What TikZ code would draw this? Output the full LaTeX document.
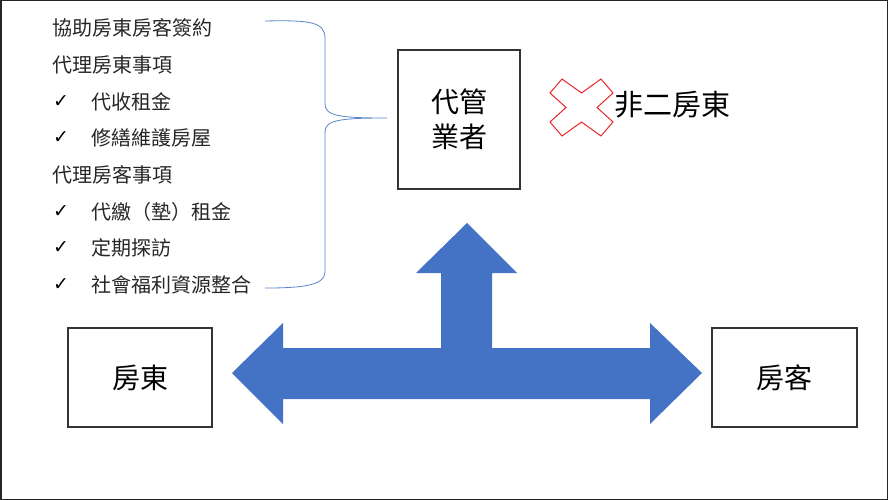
\documentclass[tikz,border=0pt]{standalone}
\usepackage{fontspec}
\newfontfamily\cjk{Noto Sans CJK TC}
\newfontfamily\symf{DejaVu Sans}
\definecolor{arrowblue}{HTML}{4472C4}
\definecolor{bracecol}{HTML}{5B85C8}
\definecolor{xred}{HTML}{E8262A}
\begin{document}
\begin{tikzpicture}[x=1pt,y=-1pt,
  listtext/.style={anchor=west,inner sep=0pt,font=\cjk\fontsize{20}{23}\selectfont,text=black!85},
  chk/.style={anchor=center,inner sep=0pt,font=\symf\fontsize{19}{22}\selectfont},
  box/.style={draw=black!80,line width=1.2pt,fill=white,inner sep=0pt}]
\useasboundingbox (0,0) rectangle (888,500);
\draw[line width=1.5pt,black!85] (0.75,0.75) rectangle (887.25,499.25);
% list
\node[listtext] (l1) at (52,28) {協助房東房客簽約};
\node[listtext] (l2) at (52,65) {代理房東事項};
\node[chk] (c3) at (61,102) {✓};
\node[listtext] (l3) at (91,102) {代收租金};
\node[chk] (c4) at (61,138) {✓};
\node[listtext] (l4) at (91,138) {修繕維護房屋};
\node[listtext] (l5) at (52,175) {代理房客事項};
\node[chk] (c6) at (61,212) {✓};
\node[listtext] (l6) at (91,212) {代繳（墊）租金};
\node[chk] (c7) at (61,248) {✓};
\node[listtext] (l7) at (91,248) {定期探訪};
\node[chk] (c8) at (61,285) {✓};
\node[listtext] (l8) at (91,285) {社會福利資源整合};
% brace
\coordinate (bt) at (265,21);
\coordinate (bb) at (265,288);
\coordinate (bm) at (387,118);
\draw[bracecol,line width=0.8pt]
  (bt) .. controls (310,20) and (325,22) .. (325,38)
  -- (325,104) .. controls (325,116) and (340,118) .. (bm)
  .. controls (340,118) and (325,120) .. (325,132)
  -- (325,272) .. controls (325,286) and (300,288) .. (bb);
% boxes
\node[box,minimum width=122pt,minimum height=139pt,font=\cjk\fontsize{28}{35}\selectfont,align=center] (mgr) at (459,119.5) {代管\\業者};
\node[box,minimum width=144pt,minimum height=99pt,font=\cjk\fontsize{28}{34}\selectfont] (ll) at (140,377.5) {房東};
\node[box,minimum width=145pt,minimum height=99pt,font=\cjk\fontsize{28}{34}\selectfont] (tn) at (784.5,377.5) {房客};
% red X
\draw[xred,line width=1pt,line join=miter]
  (562,79) -- (581.5,93) -- (601,79) -- (613,93) -- (597,107.5) -- (613,122) -- (601,136)
  -- (581.5,122) -- (562,136) -- (550,122) -- (566,107.5) -- (550,93) -- cycle;
\node[anchor=west,inner sep=0pt,font=\cjk\fontsize{29}{34}\selectfont] (non) at (614,105) {非二房東};
% T arrow
\fill[arrowblue]
  (232,373) -- (283,323) -- (283,348) -- (441,348) -- (441,273) -- (416,273) -- (467,223)
  -- (517,273) -- (492,273) -- (492,348) -- (650,348) -- (650,323) -- (702,373)
  -- (650,424) -- (650,399) -- (283,399) -- (283,424) -- cycle;
\end{tikzpicture}
\end{document}
